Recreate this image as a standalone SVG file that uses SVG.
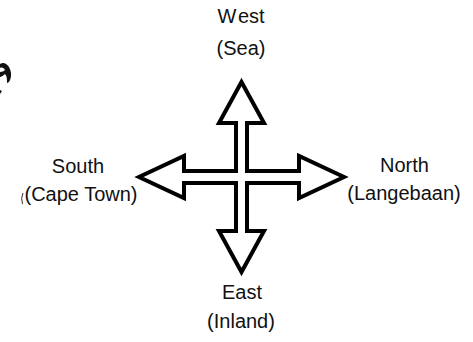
<svg xmlns="http://www.w3.org/2000/svg" width="473" height="342" viewBox="0 0 473 342">
<style>
text{font-family:"Liberation Sans",Arial,sans-serif;font-size:20px;fill:#111;text-anchor:middle}
.a{fill:#fff;stroke:#000;stroke-width:4;stroke-linejoin:miter;stroke-miterlimit:10}
</style>
<rect width="473" height="342" fill="#fff"/>
<g id="fragment">
<path d="M0 64C5 61 10 66 11 73C11.500 79 9 83 7 83C7 79 7 76 5 74C3 76 1 77 0 77ZM0 68V72C2 72 4 71 5 70C4 68 2 67 0 68Z" fill="#111" fill-rule="evenodd"/>
<path d="M0 90L2 91L0 94Z" fill="#111"/>
<path d="M23 193Q20.500 198 22.500 204" fill="none" stroke="#333" stroke-width="1"/>
</g>
<g id="connectors">
<path class="a" d="M241.500 82L264 123H247V171H299V156L344 177L299 198V183H247V231H264L241.500 272L219 231H236V183H184V198L139 177L184 156V171H236V123H219Z"/>
</g>
<g id="west"><text x="241" y="23">W<tspan dx="2">est</tspan></text><text x="241" y="55">(Sea)</text></g>
<g id="south"><text x="78" y="173">South</text><text x="81" y="201">(Cape Town)</text></g>
<g id="north"><text x="404.500" y="172">North</text><text x="404" y="200">(Langebaan)</text></g>
<g id="east"><text x="242" y="299">East</text><text x="241" y="328">(Inland)</text></g>
</svg>
